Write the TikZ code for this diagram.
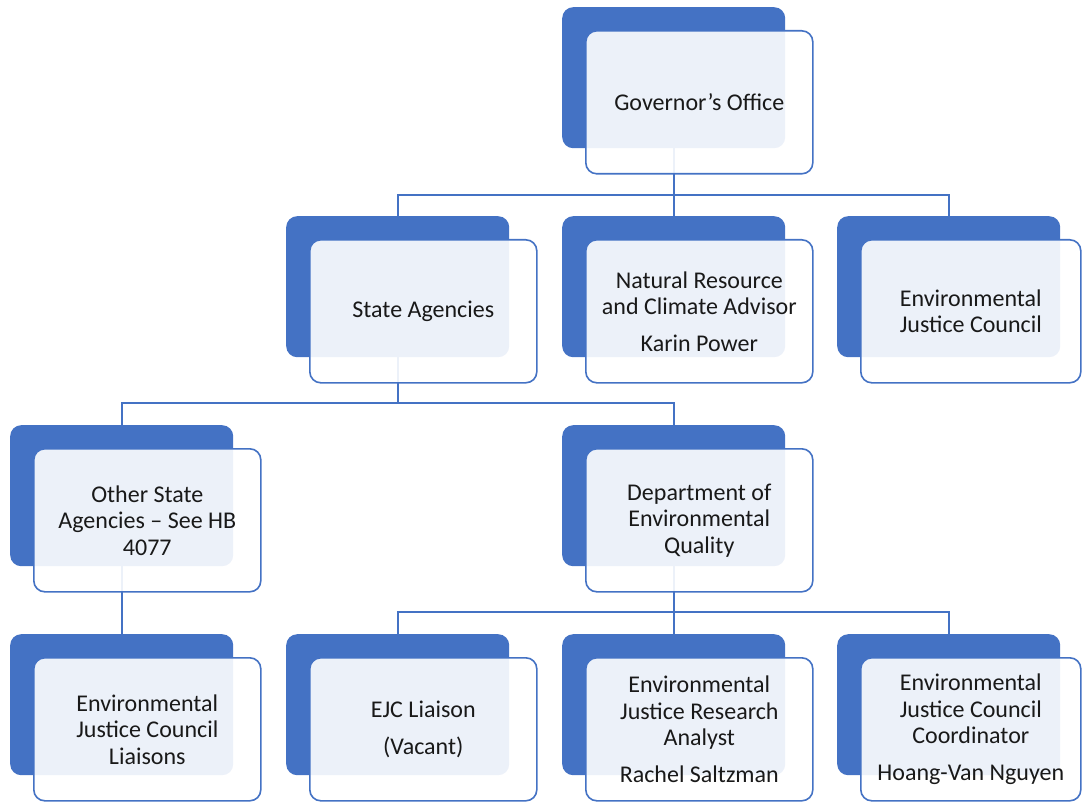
\documentclass[tikz,border=0pt]{standalone}
\usepackage{fontspec}
\setmainfont{Carlito}
\definecolor{dk}{HTML}{4472C4}
\tikzset{
  back/.style={fill=dk, draw=none, rounded corners=11pt, minimum width=223pt, minimum height=141pt, inner sep=0pt, anchor=north west},
  front/.style={draw=dk, line width=1.6pt, fill=white, fill opacity=0.9, text opacity=1, text=black!90, rounded corners=11pt, minimum width=227pt, minimum height=143pt, inner sep=0pt, anchor=north west, align=center, font=\fontsize{24}{26.5}\selectfont},
  narrow/.style={minimum width=220pt},
  conn/.style={draw=dk, line width=1.8pt}
}
\begin{document}
\begin{tikzpicture}[x=1pt,y=-1pt]
\useasboundingbox (0,0) rectangle (1083,802);
% back boxes
\node[back] (govB) at (562,7) {};
\node[back] (saB) at (286,216) {};
\node[back] (nrB) at (562,216) {};
\node[back] (ejcB) at (837,216) {};
\node[back] (osB) at (10,425) {};
\node[back] (deqB) at (562,425) {};
\node[back] (lsB) at (10,634) {};
\node[back] (ejlB) at (286,634) {};
\node[back] (raB) at (562,634) {};
\node[back] (coB) at (837,634) {};
% connectors
\coordinate (b1) at (0,195);
\coordinate (b2) at (0,403);
\coordinate (b3) at (0,612);
\draw[conn] (govB.south) -- (govB.south |- b1);
\draw[conn] (saB.north) |- (ejcB.north |- b1) -- (ejcB.north);
\draw[conn] (govB.south |- b1) -- (nrB.north);
\draw[conn] (saB.south) -- (saB.south |- b2);
\draw[conn] (osB.north) |- (deqB.north |- b2) -- (deqB.north);
\draw[conn] (osB.south) -- (lsB.north);
\draw[conn] (deqB.south) -- (deqB.south |- b3);
\draw[conn] (ejlB.north) |- (coB.north |- b3) -- (coB.north);
\draw[conn] (deqB.south |- b3) -- (raB.north);
% front boxes
\node[front] (gov) at (585,30) {Governor’s Office};
\node[front] (sa) at (309,239) {State Agencies};
\node[front] (nr) at (585,239) {Natural Resource\\and Climate Advisor\\[10pt]Karin Power};
\node[front,narrow] (ejc) at (860,239) {Environmental\\Justice Council};
\node[front] (os) at (33,448) {Other State\\Agencies – See HB\\4077};
\node[front] (deq) at (585,448) {Department of\\Environmental\\Quality};
\node[front] (ls) at (33,657) {Environmental\\Justice Council\\Liaisons};
\node[front] (ejl) at (309,657) {EJC Liaison\\[10pt](Vacant)};
\node[front] (ra) at (585,657) {Environmental\\Justice Research\\Analyst\\[10pt]Rachel Saltzman};
\node[front,narrow] (co) at (860,657) {Environmental\\Justice Council\\Coordinator\\[10pt]Hoang-Van Nguyen};
\end{tikzpicture}
\end{document}
